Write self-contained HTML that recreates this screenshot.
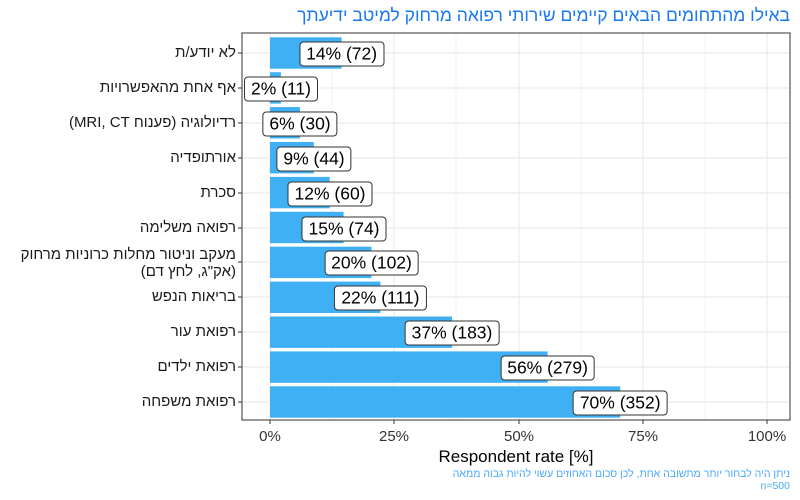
<!DOCTYPE html>
<html><head><meta charset="utf-8"><style>
body{margin:0;width:800px;height:500px;background:#fff;position:relative;font-family:"Liberation Sans","Noto Sans CJK JP",sans-serif;overflow:hidden}
.yl{position:absolute;right:564px;direction:rtl;text-align:right;font-size:15px;color:#1a1a1a;line-height:17px;white-space:nowrap}
.vl{position:absolute;font-size:17.5px;color:#000;background:#fff;border:1px solid #333;border-radius:4px;padding:2px 6px;line-height:19px;white-space:nowrap;transform:translate(-50%,-50%)}
</style></head><body>
<div style="position:absolute;right:10px;top:5px;font-size:17.5px;color:#1877f2;direction:rtl;white-space:nowrap">באילו מהתחומים הבאים קיימים שירותי רפואה מרחוק למיטב ידיעתך</div>
<svg width="800" height="500" style="position:absolute;left:0;top:0">
<g stroke="#ebebeb" stroke-width="0.6">
<line x1="332" y1="33" x2="332" y2="420"/><line x1="456" y1="33" x2="456" y2="420"/><line x1="581" y1="33" x2="581" y2="420"/><line x1="705" y1="33" x2="705" y2="420"/>
</g>
<g stroke="#ebebeb" stroke-width="1.2">
<line x1="270" y1="33" x2="270" y2="420"/><line x1="394" y1="33" x2="394" y2="420"/><line x1="519" y1="33" x2="519" y2="420"/><line x1="643" y1="33" x2="643" y2="420"/><line x1="767" y1="33" x2="767" y2="420"/>
<line x1="242" y1="53" x2="790" y2="53"/><line x1="242" y1="88" x2="790" y2="88"/><line x1="242" y1="123" x2="790" y2="123"/><line x1="242" y1="158" x2="790" y2="158"/><line x1="242" y1="193" x2="790" y2="193"/><line x1="242" y1="228" x2="790" y2="228"/><line x1="242" y1="262" x2="790" y2="262"/><line x1="242" y1="297" x2="790" y2="297"/><line x1="242" y1="332" x2="790" y2="332"/><line x1="242" y1="367" x2="790" y2="367"/><line x1="242" y1="402" x2="790" y2="402"/>
</g>
<g fill="#40b0f5">
<rect x="270" y="37.3" width="71.6" height="31.4"/>
<rect x="270" y="72.2" width="10.9" height="31.4"/>
<rect x="270" y="107.1" width="29.9" height="31.4"/>
<rect x="270" y="142" width="43.8" height="31.4"/>
<rect x="270" y="176.9" width="59.7" height="31.4"/>
<rect x="270" y="211.8" width="73.6" height="31.4"/>
<rect x="270" y="246.7" width="101.5" height="31.4"/>
<rect x="270" y="281.6" width="110.4" height="31.4"/>
<rect x="270" y="316.5" width="182.1" height="31.4"/>
<rect x="270" y="351.4" width="277.6" height="31.4"/>
<rect x="270" y="386.3" width="350.2" height="31.4"/>
</g>
<rect x="242" y="33" width="548" height="387" fill="none" stroke="#333" stroke-width="1"/>
<g stroke="#333" stroke-width="1">
<line x1="238" y1="53" x2="242" y2="53"/><line x1="238" y1="88" x2="242" y2="88"/><line x1="238" y1="123" x2="242" y2="123"/><line x1="238" y1="158" x2="242" y2="158"/><line x1="238" y1="193" x2="242" y2="193"/><line x1="238" y1="228" x2="242" y2="228"/><line x1="238" y1="262" x2="242" y2="262"/><line x1="238" y1="297" x2="242" y2="297"/><line x1="238" y1="332" x2="242" y2="332"/><line x1="238" y1="367" x2="242" y2="367"/><line x1="238" y1="402" x2="242" y2="402"/>
<line x1="270" y1="420" x2="270" y2="424"/><line x1="394" y1="420" x2="394" y2="424"/><line x1="519" y1="420" x2="519" y2="424"/><line x1="643" y1="420" x2="643" y2="424"/><line x1="767" y1="420" x2="767" y2="424"/>
</g>
<g font-size="15" fill="#333" text-anchor="middle" font-family="Liberation Sans, sans-serif">
<text x="270" y="441">0%</text><text x="394" y="441">25%</text><text x="519" y="441">50%</text><text x="643" y="441">75%</text><text x="767" y="441">100%</text>
</g>
<text x="516" y="462" font-size="17" text-anchor="middle" fill="#000" font-family="Liberation Sans, sans-serif">Respondent rate [%]</text>
</svg>
<div class="yl" style="top:44px">לא יודע/ת</div>
<div class="yl" style="top:79px">אף אחת מהאפשרויות</div>
<div class="yl" style="top:114px">רדיולוגיה (פענוח MRI, CT)</div>
<div class="yl" style="top:149px">אורתופדיה</div>
<div class="yl" style="top:184px">סכרת</div>
<div class="yl" style="top:219px">רפואה משלימה</div>
<div class="yl" style="top:246px">מעקב וניטור מחלות כרוניות מרחוק<br>(אק"ג, לחץ דם)</div>
<div class="yl" style="top:288px">בריאות הנפש</div>
<div class="yl" style="top:323px">רפואת עור</div>
<div class="yl" style="top:358px">רפואת ילדים</div>
<div class="yl" style="top:393px">רפואת משפחה</div>
<div class="vl" style="left:341.6px;top:54px">14% (72)</div>
<div class="vl" style="left:281px;top:89px">2% (11)</div>
<div class="vl" style="left:300px;top:124px">6% (30)</div>
<div class="vl" style="left:314px;top:159px">9% (44)</div>
<div class="vl" style="left:330px;top:194px">12% (60)</div>
<div class="vl" style="left:344px;top:229px">15% (74)</div>
<div class="vl" style="left:371.5px;top:263px">20% (102)</div>
<div class="vl" style="left:380.4px;top:298px">22% (111)</div>
<div class="vl" style="left:452px;top:333px">37% (183)</div>
<div class="vl" style="left:547.6px;top:368px">56% (279)</div>
<div class="vl" style="left:620.2px;top:403px">70% (352)</div>
<div style="position:absolute;right:10px;top:468px;font-size:10.5px;line-height:12px;color:#4aa8ff;direction:rtl;text-align:right">ניתן היה לבחור יותר מתשובה אחת, לכן סכום האחוזים עשוי להיות גבוה ממאה<br><span style="direction:ltr;unicode-bidi:embed">n=500</span></div>
</body></html>
